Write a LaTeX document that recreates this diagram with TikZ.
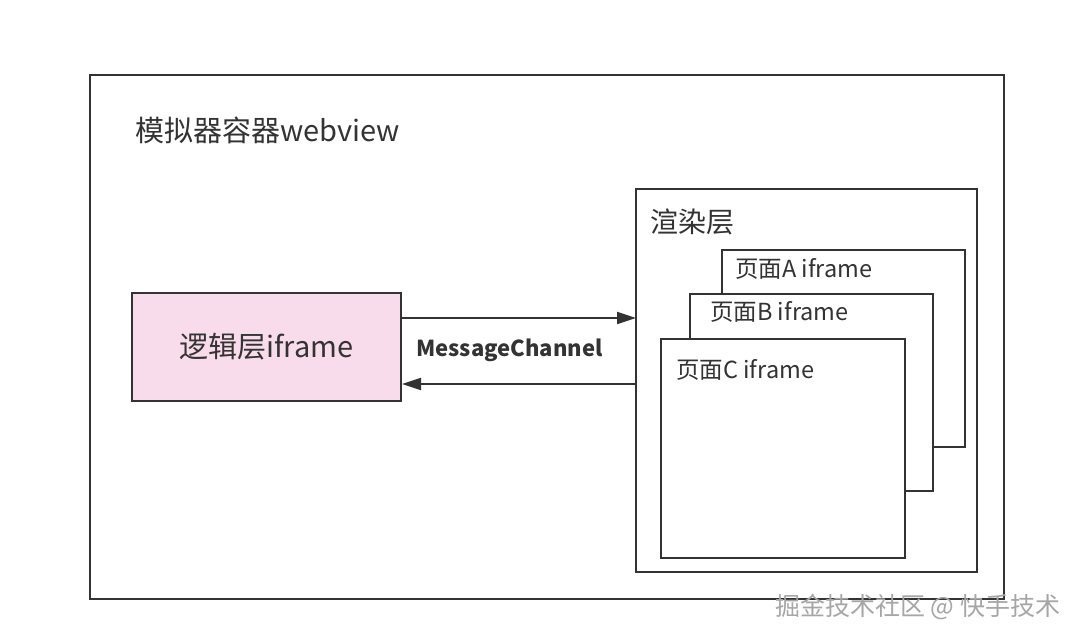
\documentclass[tikz,border=0pt]{standalone}
\usepackage{fontspec}
\setmainfont{Noto Sans CJK SC}
\usetikzlibrary{arrows.meta}
\definecolor{ln}{HTML}{333333}
\definecolor{pinkfill}{HTML}{F9DCEB}
\begin{document}
\begin{tikzpicture}[x=1pt,y=-1pt,
  boxx/.style={draw=ln,line width=2pt,fill=white},
  lbl/.style={anchor=west,inner sep=0pt,text=ln},
  conn/.style={draw=ln,line width=1.8pt,-{Triangle[length=19pt,width=12pt]}}]
\useasboundingbox (0,0) rectangle (1080,642);
\fill[white] (0,0) rectangle (1080,642);
% outer container
\draw[boxx] (90,75) rectangle (1004,599);
\node[lbl,font=\fontsize{29}{32}\selectfont] (title) at (135,130) {模拟器容器webview};
% logic layer
\node[boxx,fill=pinkfill,minimum width=269pt,minimum height=108pt,inner sep=0pt,font=\fontsize{29}{32}\selectfont,text=ln] (logic) at (266.5,347) {\raisebox{3pt}{逻辑层iframe}};
% render layer
\draw[boxx] (636,189) rectangle (977,572);
\coordinate (rtop) at (636,318);
\coordinate (rbot) at (636,384);
\node[lbl,font=\fontsize{28}{30}\selectfont] (rl) at (650,222) {渲染层};
\draw[boxx] (722,250) rectangle (965,447);
\node[lbl,font=\fontsize{23.5}{26}\selectfont] (pa) at (735,269) {页面A iframe};
\draw[boxx] (690,294) rectangle (933,491);
\node[lbl,font=\fontsize{23.5}{26}\selectfont] (pb) at (710,312) {页面B iframe};
\draw[boxx] (661,339) rectangle (905,558);
\node[lbl,font=\fontsize{23.5}{26}\selectfont] (pc) at (676,370) {页面C iframe};
% connectors
\draw[conn] (logic.east |- rtop) -- (rtop);
\draw[conn] (rbot) -- (logic.east |- rbot);
\node[lbl,font=\bfseries\fontsize{22}{24}\selectfont] (mc) at (416,350) {MessageChannel};
% watermark
\node[lbl,font=\fontsize{25}{27}\selectfont,text=gray!70] (wm) at (775,607) {掘金技术社区 @ 快手技术};
\end{tikzpicture}
\end{document}
